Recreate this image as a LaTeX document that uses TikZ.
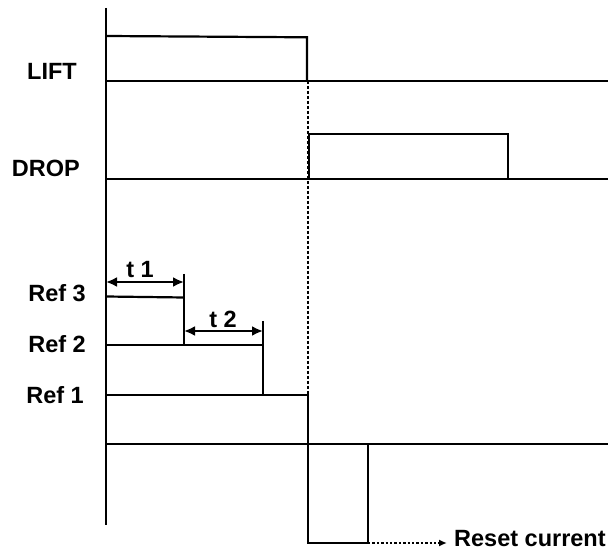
\documentclass[tikz,border=0pt]{standalone}
\usepackage{fontspec}
\setmainfont{Liberation Sans}
\usetikzlibrary{arrows.meta}
\begin{document}
\begin{tikzpicture}[x=1pt,y=-1pt,
  sig/.style={line width=2.2pt, line join=miter},
  guide/.style={line width=2.6pt, dash pattern=on 2.6pt off 2.4pt},
  lbl/.style={font=\fontsize{23.5}{27}\selectfont\bfseries, inner sep=0pt},
  dim/.style={line width=2.2pt, {Latex[length=11pt,width=10pt]}-{Latex[length=11pt,width=10pt]}},
  resetarrow/.style={line width=2.4pt, dash pattern=on 2.4pt off 2pt, -{Latex[length=8pt,width=7pt]}}]
\useasboundingbox (0,0) rectangle (608,553);
% axis
\draw[sig] (106,8) coordinate (axtop) -- (106,525) coordinate (axbot);
% LIFT
\draw[sig] (106,81) -- (608,81);
\draw[sig] (106,36) -- (307,37.3) -- (307,81);
\node[lbl, anchor=east] (lift) at (77,71) {LIFT};
% DROP
\draw[sig] (106,179) -- (608,179);
\draw[sig] (309,179) -- (309,134) -- (508,134) -- (508,179);
\node[lbl, anchor=east] (drop) at (80,168) {DROP};
% dotted guide
\draw[guide] (308,81) -- (308,395);
% Ref levels
\draw[sig] (106,296.5) -- (184,297.5);
\draw[sig] (184,274) -- (184,345);
\draw[sig] (106,345) -- (263,345);
\draw[sig] (263,321) -- (263,395);
\draw[sig] (106,395) -- (308,395) -- (308,543) coordinate (rb) -- (368,543) coordinate (re) -- (368,444);
\draw[sig] (106,444) -- (608,444);
\node[lbl, anchor=east] (r3) at (86,293) {Ref 3};
\node[lbl, anchor=east] (r2) at (86,344) {Ref 2};
\node[lbl, anchor=east] (r1) at (84,395) {Ref 1};
% time intervals
\coordinate (t1a) at (106,282); \coordinate (t1b) at (184,282);
\coordinate (t2a) at (184,331); \coordinate (t2b) at (263,331);
\draw[dim] (t1a) -- (t1b);
\draw[dim] (t2a) -- (t2b);
\node[lbl] (t1) at (140,270) {t 1};
\node[lbl] (t2) at (223,319.5) {t 2};
% reset current
\node[lbl, anchor=base west] (reset) at (454,546) {Reset current};
\draw[resetarrow] (re) -- ([xshift=-7pt]reset.west |- re);
\end{tikzpicture}
\end{document}
